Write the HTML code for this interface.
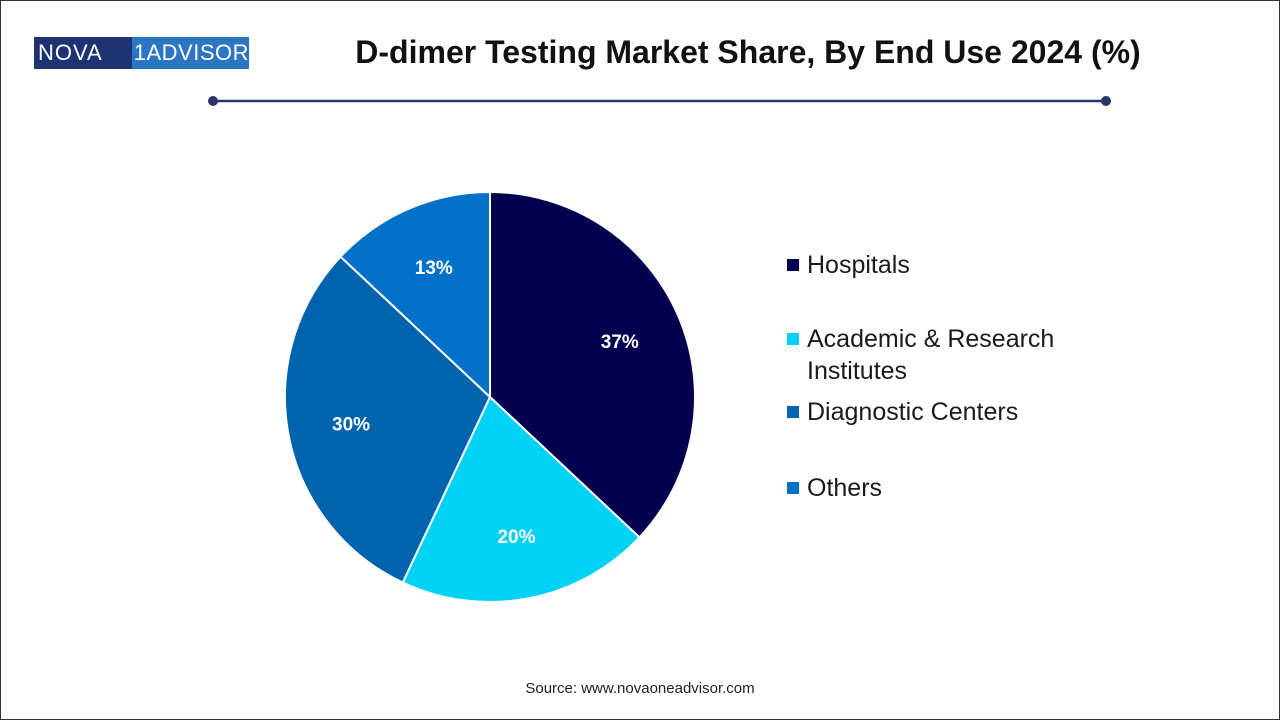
<!DOCTYPE html>
<html><head><meta charset="utf-8"><style>
body{margin:0;width:1280px;height:720px;background:#fff;font-family:"Liberation Sans",sans-serif;overflow:hidden;position:relative}
.frame{position:absolute;left:0;top:0;width:1278px;height:718px;border:1px solid #333}
.logo{position:absolute;left:34px;top:37px;width:215px;height:32px;display:flex;font-size:22px;color:#fff;line-height:32px}
.logo .a{background:#1f3373;padding-left:4px;width:103px;letter-spacing:1px}
.logo .b{background:#2b76c2;flex:1;padding-left:2px;letter-spacing:0.5px}
.title{position:absolute;left:300px;width:896px;top:34px;text-align:center;font-weight:bold;font-size:32px;color:#111}
.leg{position:absolute;left:787px;font-size:25px;color:#1a1a1a;line-height:32px}
.leg i{display:inline-block;width:12px;height:12px;margin-right:8px;vertical-align:2px}
.src{position:absolute;top:680px;width:1280px;text-align:center;font-size:15px;color:#222}
</style></head><body>
<div class="frame"></div>
<div class="logo"><span class="a">NOVA</span><span class="b">1ADVISOR</span></div>
<div class="title">D-dimer Testing Market Share, By End Use 2024 (%)</div>
<svg width="1280" height="720" style="position:absolute;left:0;top:0">
<line x1="213" y1="101" x2="1106" y2="101" stroke="#2a3466" stroke-width="2.5"/>
<circle cx="213" cy="101" r="5" fill="#2a3466"/>
<circle cx="1106" cy="101" r="5" fill="#2a3466"/>
<g id="pie"></g>
</svg>
<div class="leg" style="top:249px"><i style="background:#03004f"></i>Hospitals</div>
<div class="leg" style="top:323px"><i style="background:#00d2f5"></i>Academic &amp; Research<br><span style="padding-left:20px">Institutes</span></div>
<div class="leg" style="top:396px"><i style="background:#0063ad"></i>Diagnostic Centers</div>
<div class="leg" style="top:472px"><i style="background:#0070c8"></i>Others</div>
<div class="src">Source: www.novaoneadvisor.com</div>
<script>
const categories=["Hospitals","Academic & Research Institutes","Diagnostic Centers","Others"];
const values=[37,20,30,13];
const labels=["37%","20%","30%","13%"];
const colors=["#03004f","#00d2f5","#0063ad","#0070c8"];
const cx=490,cy=397,r=205,ns="http://www.w3.org/2000/svg";
const g=document.getElementById('pie');
const total=values.reduce((a,b)=>a+b,0);
let ang=0;
values.forEach((v,i)=>{
  const a0=ang,a1=ang+v/total*2*Math.PI;ang=a1;
  const p=a=>[cx+r*Math.sin(a),cy-r*Math.cos(a)];
  const [x0,y0]=p(a0),[x1,y1]=p(a1);
  const path=document.createElementNS(ns,'path');
  path.setAttribute('d',`M${cx},${cy}L${x0},${y0}A${r},${r} 0 ${a1-a0>Math.PI?1:0} 1 ${x1},${y1}Z`);
  path.setAttribute('fill',colors[i]);path.setAttribute('stroke','#fff');path.setAttribute('stroke-width','2');
  
  
  g.appendChild(path);
  const m=(a0+a1)/2,lr=r*0.69;
  const t=document.createElementNS(ns,'text');
  t.setAttribute('x',cx+lr*Math.sin(m));t.setAttribute('y',cy-lr*Math.cos(m)+7);
  t.setAttribute('text-anchor','middle');t.setAttribute('fill','#fff');
  t.setAttribute('font-size','19');t.setAttribute('font-weight','bold');
  t.setAttribute('font-family','Liberation Sans, sans-serif');
  t.textContent=labels[i];
  
  
  g.appendChild(t);
});
</script>
</body></html>
